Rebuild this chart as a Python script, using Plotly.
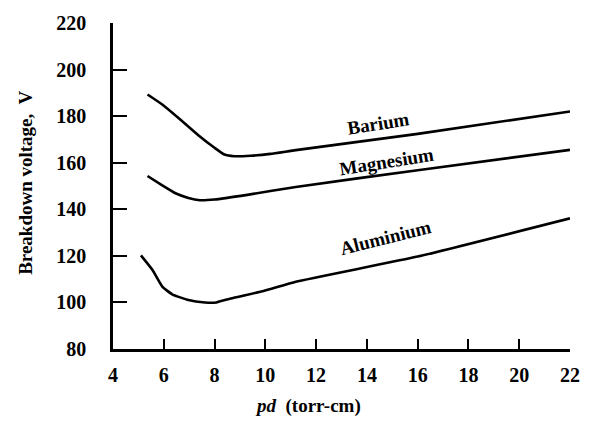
import plotly.graph_objects as go

# pd (torr-cm) and breakdown voltage (V)
barium_pd = [5.36, 5.94, 6.59, 7.36, 8.0, 8.39, 8.77, 9.42, 10.2, 11.2, 16.0, 22.0]
barium_v = [189.3, 185.0, 179.1, 171.8, 166.4, 163.5, 162.8, 163.0, 163.8, 165.4, 172.4, 182.0]

magnesium_pd = [5.36, 5.94, 6.46, 6.97, 7.42, 8.0, 9.29, 11.2, 16.0, 22.0]
magnesium_v = [154.3, 150.3, 146.9, 144.9, 143.9, 144.2, 146.2, 149.6, 156.8, 165.5]

aluminium_pd = [5.1, 5.55, 5.94, 6.33, 6.97, 7.62, 8.07, 8.64, 9.93, 11.2, 16.0, 22.0]
aluminium_v = [120.2, 114.0, 106.8, 103.5, 101.0, 100.0, 100.0, 101.7, 104.9, 108.9, 119.7, 136.1]

labels = ["Barium", "Magnesium", "Aluminium"]
label_pd = [14.45, 14.79, 14.75]
label_v = [177.0, 160.5, 128.0]
label_angle = [-9, -9, -14]

x_ticks = [4, 6, 8, 10, 12, 14, 16, 18, 20, 22]
y_ticks = [80, 100, 120, 140, 160, 180, 200, 220]

FONT = "Liberation Serif"

fig = go.Figure()
for xs, ys in [(barium_pd, barium_v), (magnesium_pd, magnesium_v), (aluminium_pd, aluminium_v)]:
    fig.add_trace(go.Scatter(x=xs, y=ys, mode="lines",
                             line=dict(color="black", width=2.6, shape="spline", smoothing=0.4),
                             showlegend=False, hoverinfo="skip"))

for t, x, y, a in zip(labels, label_pd, label_v, label_angle):
    fig.add_annotation(x=x, y=y, text="<b>" + t + "</b>", showarrow=False, textangle=a,
                       font=dict(family=FONT, size=19, color="black"))

fig.add_annotation(xref="paper", yref="paper", x=0.426, y=-0.176, text="<b><i>pd</i>  (torr-cm)</b>",
                   showarrow=False, font=dict(family=FONT, size=19, color="black"),
                   xanchor="center", yanchor="middle")
fig.add_annotation(xref="paper", yref="paper", x=-0.193, y=0.509, text="<b>Breakdown voltage,  V</b>",
                   showarrow=False, textangle=-90, font=dict(family=FONT, size=19, color="black"),
                   xanchor="center", yanchor="middle")

fig.update_layout(
    width=592, height=421,
    margin=dict(l=113, r=12, t=13, b=72),
    paper_bgcolor="white", plot_bgcolor="white",
    font=dict(family=FONT, color="black"),
)
fig.update_xaxes(range=[4, 22], tickvals=x_ticks, ticktext=[str(v) for v in x_ticks],
                 showgrid=False, zeroline=False, showline=True, linecolor="black", linewidth=2.5,
                 ticks="inside", ticklen=10, tickwidth=2, tickcolor="black",
                 tickfont=dict(family=FONT, size=20, color="black", weight="bold"),
                 ticklabelstandoff=6)
fig.update_yaxes(range=[80, 220], tickvals=y_ticks, ticktext=[str(v) for v in y_ticks],
                 showgrid=False, zeroline=False, showline=True, linecolor="black", linewidth=2.5,
                 ticks="inside", ticklen=14, tickwidth=2, tickcolor="black",
                 tickfont=dict(family=FONT, size=20, color="black", weight="bold"),
                 ticklabelstandoff=20)

fig.write_html("out.html")
